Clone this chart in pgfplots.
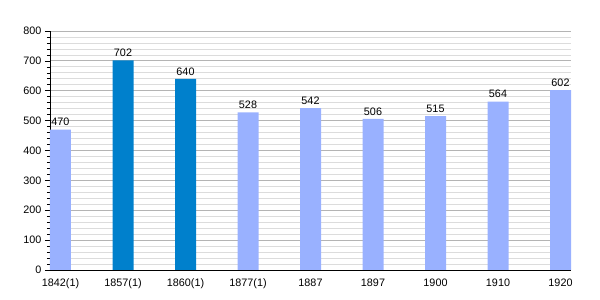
\documentclass[border=0pt]{standalone}
\usepackage{pgfplots}
\pgfplotsset{compat=1.18}
\usepackage{fontspec}
\setmainfont{Liberation Sans}
\definecolor{lightbar}{HTML}{99B1FF}
\definecolor{darkbar}{HTML}{0080CC}
\definecolor{majgrid}{HTML}{B4B4B4}
\definecolor{mingrid}{HTML}{DCDCDC}
\begin{document}
\begin{tikzpicture}
\begin{axis}[
  name=ax,
  scale only axis,
  width=521pt, height=239pt,
  xmin=-0.168, xmax=8.168,
  ymin=0, ymax=800,
  ytick={0,100,...,800},
  minor y tick num=4,
  xtick={0,...,8},
  xticklabels={1842(1),1857(1),1860(1),1877(1),1887,1897,1900,1910,1920},
  ymajorgrids, yminorgrids,
  major grid style={majgrid, line width=0.8pt},
  minor grid style={mingrid, line width=0.7pt},
  axis x line*=bottom,
  axis y line*=left,
  axis line style={black, line width=0.8pt},
  tick style={black, line width=0.6pt},
  y tick style={black},
  tick align=outside,
  major tick length=5pt,
  minor tick length=3pt,
  x tick style={draw=none},
  ybar, bar width=21pt, bar shift=0pt,
  tick label style={font=\fontsize{10.8}{12}\selectfont},
  /pgf/number format/assume math mode=true,
  nodes near coords,
  every node near coord/.append style={font=\fontsize{10.8}{12}\selectfont, black},
  clip=false,
]
\addplot[draw=none, fill=lightbar] coordinates {(0,470) (3,528) (4,542) (5,506) (6,515) (7,564) (8,602)};
\addplot[draw=none, fill=darkbar] coordinates {(1,702) (2,640)};
\end{axis}
\pgfresetboundingbox
\path[use as bounding box] ([shift={(-50pt,-30pt)}]ax.south west) rectangle ([shift={(29pt,31pt)}]ax.north east);
\end{tikzpicture}
\end{document}
